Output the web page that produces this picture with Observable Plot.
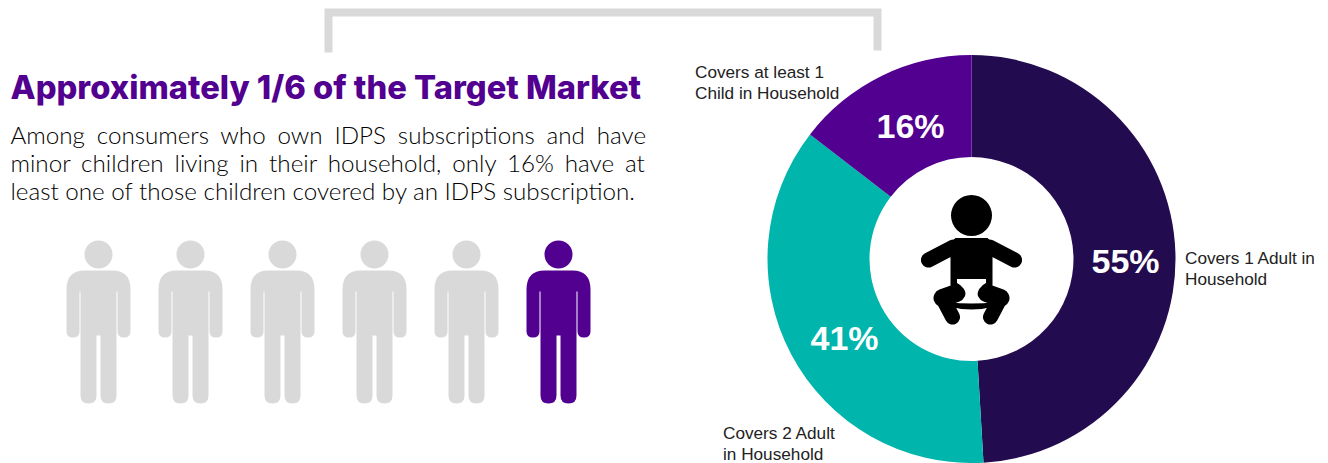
<!DOCTYPE html>
<html>
<head>
<meta charset="utf-8">
<script src="https://cdn.jsdelivr.net/npm/d3@7"></script>
<script src="https://cdn.jsdelivr.net/npm/@observablehq/plot@0.6"></script>
<style>html,body{margin:0;padding:0;background:#fff}svg{display:block}</style>
</head>
<body>
<div id="chart"></div>
<script>
// --- data ---
const categories = ["Covers 1 Adult in\nHousehold", "Covers 2 Adult\nin Household", "Covers at least 1\nChild in Household"];
const shares = [55, 40.8, 16.3];
const shareLabels = ["55%", "41%", "16%"];
const peopleCount = 6;
const highlightedPeople = 1;
const titleText = "Approximately 1/6 of the Target Market";
const bodyLines = [
  "Among consumers who own IDPS subscriptions and have",
  "minor children living in their household, only 16% have at",
  "least one of those children covered by an IDPS subscription."
];

// --- styling & layout ---
const sliceColors = ["#230B4F", "#00B5AC", "#520090"];
const purple = "#520090", grey = "#D9D9D9";
const W = 1328, H = 463;
const center = {x: 971, y: 258.5}, outerR = 204, innerRatio = 0.5;
const pctPos = [[1125, 262], [844, 339], [910, 127]];
const labelPos = [[1184.5, 267], [722.5, 442.5], [694.5, 81]];
const bodyFont = "Lato", bodySize = 24.2, bodyWeight = 300;
const bodyLeft = 10, bodyRight = 646, bodyY = [136, 164, 192];
const personX0 = 98, personDX = 92, personY = 336;
const bracket = [[328, 52], [328, 12], [877, 12], [877, 50]];

// --- custom symbols ---
function capsule(c, x1, y1, x2, y2, r) {
  const a = Math.atan2(y2 - y1, x2 - x1), p = Math.PI / 2;
  c.moveTo(x1 + r * Math.cos(a - p), y1 + r * Math.sin(a - p));
  c.arc(x2, y2, r, a - p, a + p);
  c.arc(x1, y1, r, a + p, a + 3 * p);
  c.closePath();
}
const personSymbol = {
  draw(c, size) {
    const s = Math.sqrt(size / Math.PI);
    const P = (x, y) => [x * s, y * s];
    const m = (x, y) => c.moveTo(...P(x, y)), l = (x, y) => c.lineTo(...P(x, y));
    const q = (a, b, x, y) => c.quadraticCurveTo(...P(a, b), ...P(x, y));
    c.moveTo(14 * s, -82 * s);
    c.arc(0, -82 * s, 14 * s, 0, 2 * Math.PI);
    c.closePath();
    m(-14, -66); l(14, -66);
    q(32, -66, 32, -47);
    l(32, -5); q(32, 1, 25.5, 1); q(19, 1, 19, -5);
    l(19, -45); l(18, -45); l(18, 59);
    q(18, 67, 10, 67); q(2, 67, 2, 59);
    l(2, -1); l(-2, -1); l(-2, 59);
    q(-2, 67, -10, 67); q(-18, 67, -18, 59);
    l(-18, -45); l(-19, -45); l(-19, -5);
    q(-19, 1, -25.5, 1); q(-32, 1, -32, -5);
    l(-32, -47); q(-32, -66, -14, -66);
    c.closePath();
  }
};
const babySymbol = {
  draw(c) {
    c.moveTo(20.5, -43.5);
    c.arc(0, -43.5, 20.5, 0, 2 * Math.PI);
    c.closePath();
    // torso
    c.moveTo(-16, -21); c.lineTo(16, -21); c.lineTo(21, -16); c.lineTo(21, 30); c.lineTo(-21, 30); c.lineTo(-21, -16);
    c.closePath();
    // arms
    capsule(c, -18, -12, -43, 1, 7.5);
    capsule(c, 18, -12, 43, 1, 7.5);
    // thighs & shins
    capsule(c, -15, 34, -29, 39, 9);
    capsule(c, -29, 39, -19, 58, 7.5);
    capsule(c, 29, 39, 15, 34, 9);
    capsule(c, 19, 58, 29, 39, 7.5);
    // strap
    c.moveTo(-24, 43); c.quadraticCurveTo(0, 46, 24, 43); c.lineTo(24, 47); c.quadraticCurveTo(0, 54, -24, 47);
    c.closePath();
  }
};
const diaperSymbol = {
  draw(c) {
    c.moveTo(-14.5, 20); c.lineTo(14.5, 20); c.lineTo(14.5, 24);
    c.quadraticCurveTo(6, 28, 5, 39); c.lineTo(-4.5, 39);
    c.quadraticCurveTo(-6, 28, -14.5, 24);
    c.closePath();
  }
};
const slices = d3.pie().sort(null)(shares).map((p, i) => ({
  category: categories[i], label: shareLabels[i], startAngle: p.startAngle, endAngle: p.endAngle,
  px: pctPos[i][0], py: pctPos[i][1], lx: labelPos[i][0], ly: labelPos[i][1]
}));
const sliceSymbol = s => ({
  draw(c, size) {
    const R = Math.sqrt(size / Math.PI);
    d3.arc().innerRadius(R * innerRatio).outerRadius(R).context(c)(s);
  }
});

const people = d3.range(peopleCount).map(i => ({
  x: personX0 + i * personDX, on: i >= peopleCount - highlightedPeople
}));

// --- justification ---
const ctx = document.createElement("canvas").getContext("2d");
ctx.font = `${bodyWeight} ${bodySize}px ${bodyFont}`;
function wordSpacing(line, justify) {
  if (!justify) return 0;
  return (bodyRight - bodyLeft - ctx.measureText(line).width) / (line.split(" ").length - 1);
}
const spaced = sp => ({
  render(index, scales, values, dimensions, context, next) {
    const g = next(index, scales, values, dimensions, context);
    g.style.wordSpacing = sp + "px";
    return g;
  }
});

const plot = Plot.plot({
  width: W, height: H,
  margin: 0,
  x: {domain: [0, W], range: [0, W], axis: null},
  y: {domain: [0, H], range: [0, H], axis: null},
  color: {domain: categories, range: sliceColors},
  marks: [
    Plot.line(bracket, {x: d => d[0], y: d => d[1], stroke: grey, strokeWidth: 8, strokeLinejoin: "miter", strokeMiterlimit: 4, strokeLinecap: "butt"}),
    Plot.text([titleText], {
      x: bodyLeft, y: 88, text: d => d, textAnchor: "start", lineAnchor: "middle",
      fontFamily: "Inter", fontWeight: 800, fontSize: 32.7, fill: purple
    }),
    ...bodyLines.map((line, i) => Plot.text([line], {
      x: bodyLeft, y: bodyY[i], text: d => d, textAnchor: "start", lineAnchor: "middle",
      fontFamily: bodyFont, fontWeight: bodyWeight, fontSize: bodySize, fill: "#000",
      ...spaced(wordSpacing(line, i < 2))
    })),
    Plot.dot(people.filter(d => !d.on), {x: "x", y: () => personY, r: 1, symbol: personSymbol, fill: grey, stroke: "none"}),
    Plot.dot(people.filter(d => d.on), {x: "x", y: () => personY, r: 1, symbol: personSymbol, fill: purple, stroke: "none"}),
    ...slices.map(s => Plot.dot([s], {
      x: () => center.x, y: () => center.y, r: outerR, symbol: sliceSymbol(s), fill: "category", stroke: "none"
    })),
    Plot.dot([0], {x: () => center.x, y: () => center.y, r: 1, symbol: babySymbol, fill: "#000", stroke: "none"}),
    Plot.dot([0], {x: () => center.x, y: () => center.y, r: 1, symbol: diaperSymbol, fill: "#fff", stroke: "none"}),
    Plot.text(slices, {
      x: "px", y: "py", text: "label", fontFamily: "Liberation Sans", fontWeight: 700, fontSize: 34,
      fill: "#fff", textAnchor: "middle", lineAnchor: "middle"
    }),
    Plot.text(slices, {
      x: "lx", y: "ly", text: "category", fontFamily: "Liberation Sans", fontSize: 17.2, lineHeight: 1.22,
      fill: "#222", textAnchor: "start", lineAnchor: "middle"
    })
  ]
});
document.getElementById("chart").appendChild(plot);
</script>
</body>
</html>
